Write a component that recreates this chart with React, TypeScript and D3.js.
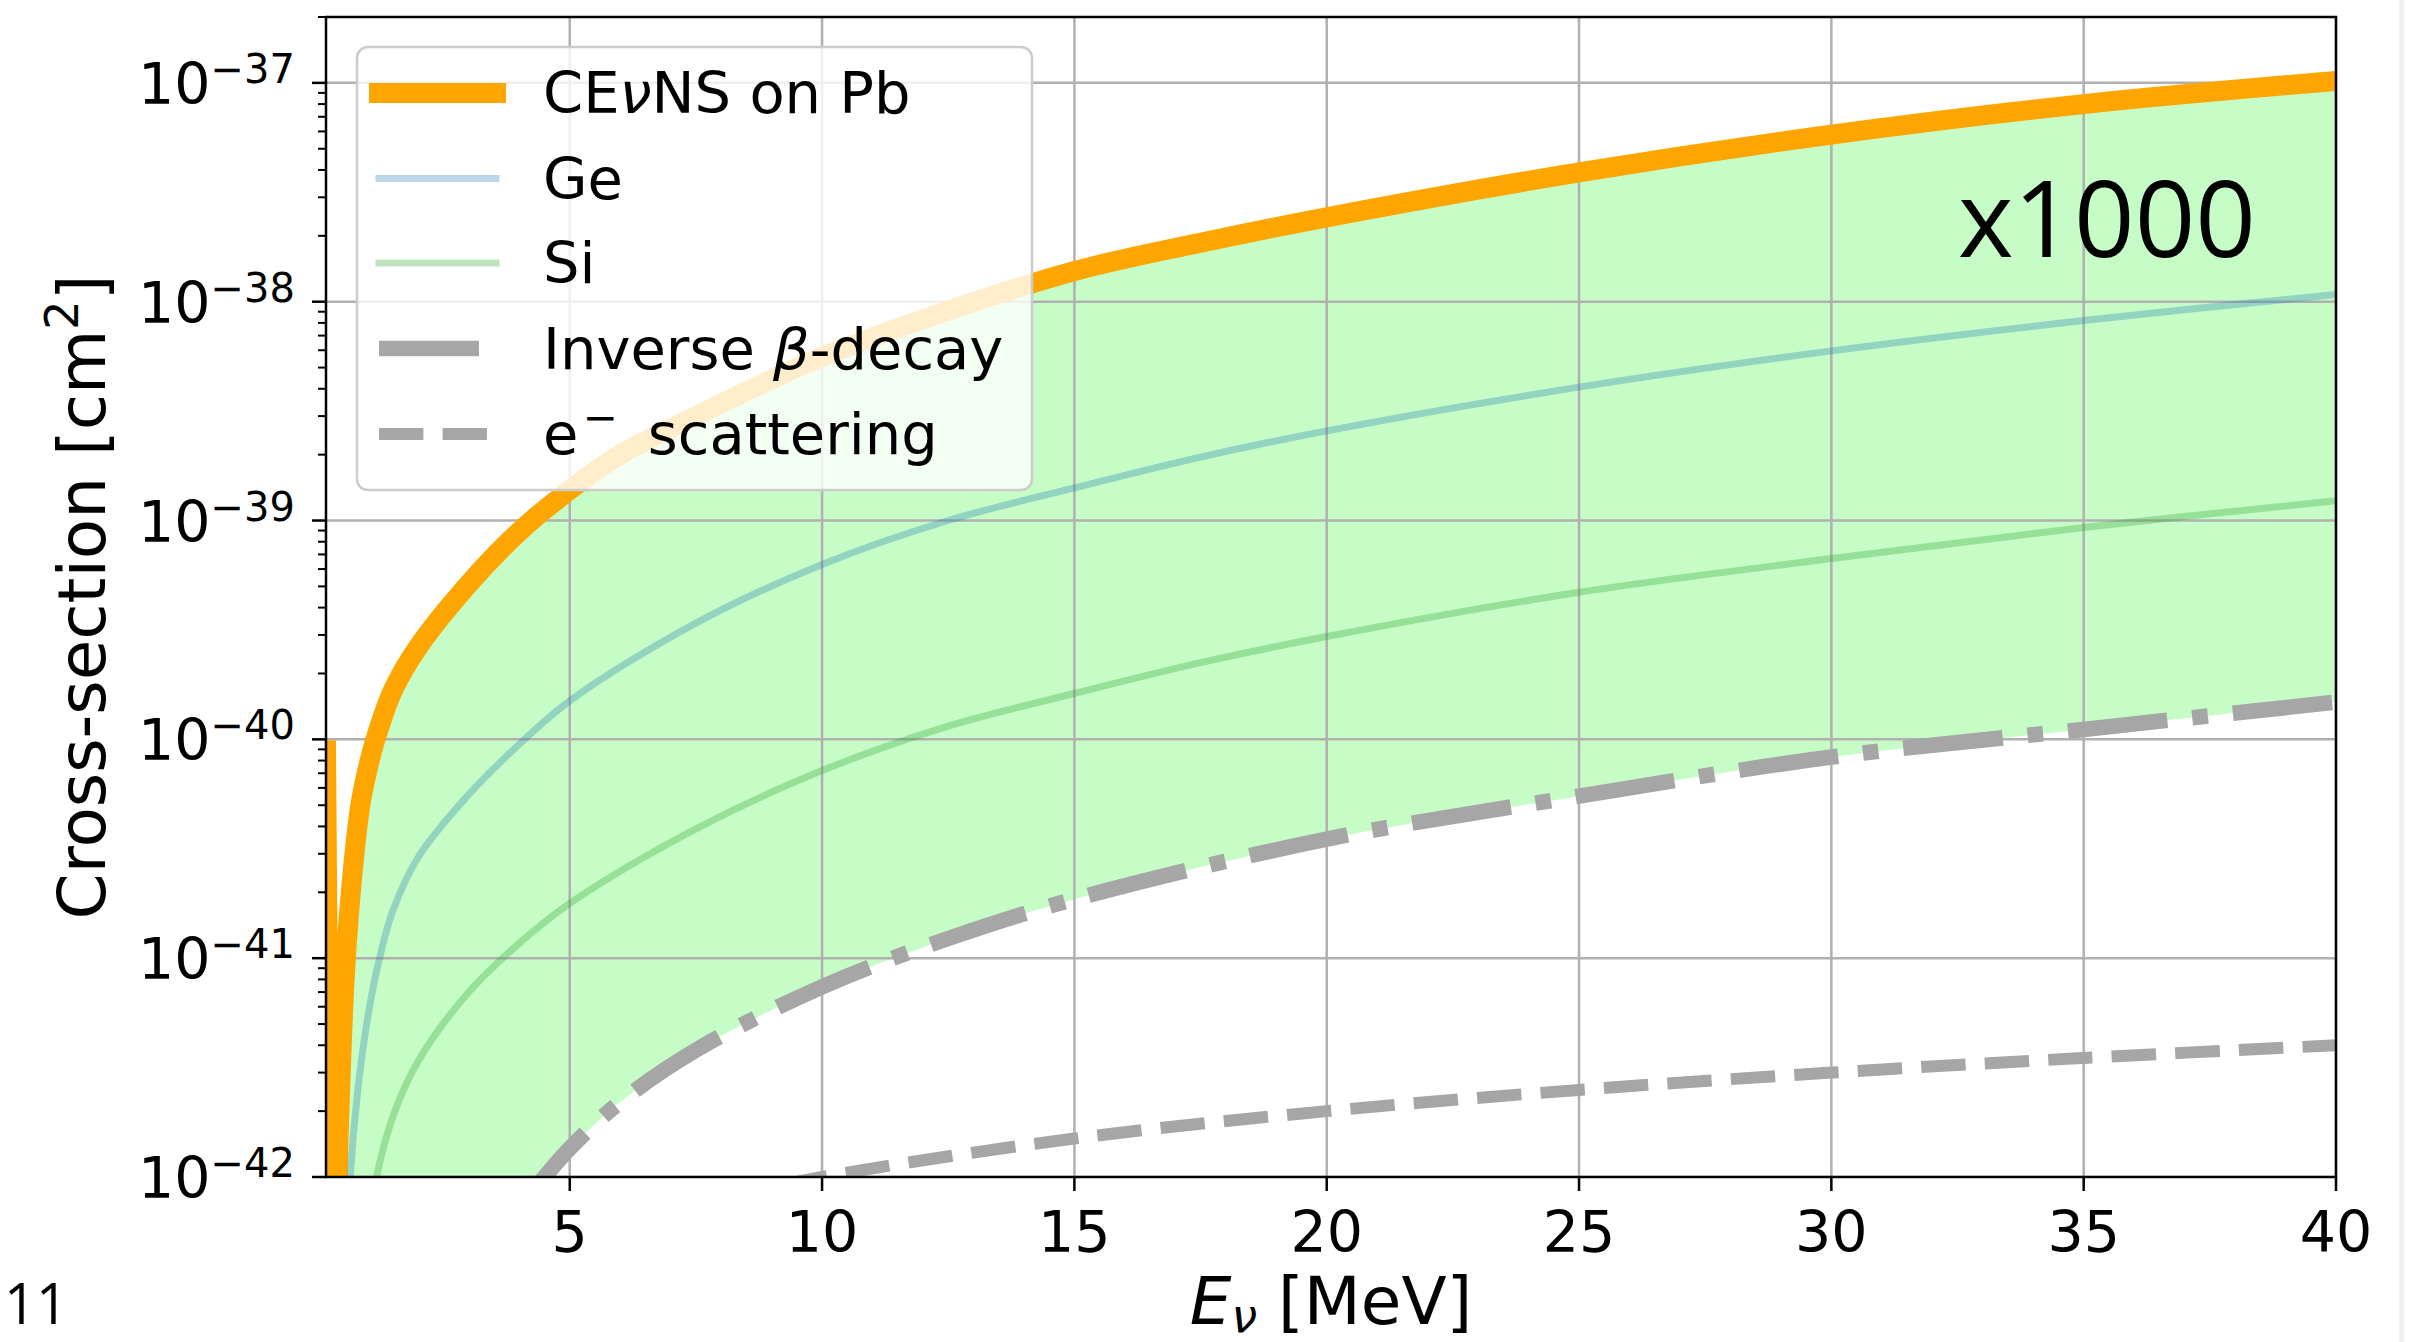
import React from "react";
import * as d3 from "d3";

const W = 2432;
const H = 1342;
const plot = { left: 326, right: 2336, top: 17, bottom: 1177 };

// CEvNS on Pb
const energyPb = [0.17, 0.33, 0.4, 0.45, 0.55, 0.7, 0.85, 1.0, 1.15, 1.5, 2, 3, 4, 5, 6, 7.5, 10, 12.5, 15, 17.5, 20, 25, 30, 35, 40];
const sigmaPb = [8.9e-41, 3.2e-44, 1.0e-42, 2.5e-42, 8.9e-42, 2.5e-41, 5.0e-41, 7.4e-41, 1.0e-40, 1.68e-40, 2.65e-40, 5.14e-40, 8.9e-40, 1.38e-39, 2.0e-39, 3.0e-39, 5.6e-39, 9.1e-39, 1.38e-38, 1.86e-38, 2.43e-38, 3.9e-38, 5.8e-38, 8.0e-38, 1.02e-37];

// Ge
const energyGe = [0.6, 0.65, 0.8, 1.0, 1.2, 1.5, 2, 3, 4, 5, 7.5, 10, 12.5, 15, 17.5, 20, 25, 30, 35, 40];
const sigmaGe = [5.0e-43, 1.0e-42, 2.5e-42, 5.4e-42, 9.3e-42, 1.66e-41, 2.9e-41, 5.6e-41, 9.5e-41, 1.5e-40, 3.4e-40, 6.3e-40, 1.0e-39, 1.41e-39, 1.95e-39, 2.57e-39, 4.07e-39, 5.96e-39, 8.2e-39, 1.08e-38];

// Si
const energySi = [1.1, 1.17, 1.5, 2, 3, 4, 5, 7.5, 10, 12.5, 15, 17.5, 20, 25, 30, 35, 40];
const sigmaSi = [7.9e-43, 1.0e-42, 1.9e-42, 3.4e-42, 7.0e-42, 1.17e-41, 1.78e-41, 3.9e-41, 7.2e-41, 1.15e-40, 1.62e-40, 2.24e-40, 2.95e-40, 4.7e-40, 6.7e-40, 9.3e-40, 1.23e-39];

// inverse beta decay
const energyIbd = [4.0, 4.5, 5, 6, 7.5, 10, 12.5, 15, 20, 25, 30, 35, 40];
const sigmaIbd = [7.2e-43, 1.0e-42, 1.35e-42, 2.2e-42, 3.8e-42, 7.4e-42, 1.23e-41, 1.86e-41, 3.5e-41, 5.5e-41, 8.3e-41, 1.11e-40, 1.48e-40];

// electron scattering
const energyEs = [8, 10, 15, 20, 25, 30, 35, 40];
const sigmaEs = [8.0e-43, 1.0e-42, 1.5e-42, 2.0e-42, 2.5e-42, 3.0e-42, 3.5e-42, 4.0e-42];

const xTicks = [5, 10, 15, 20, 25, 30, 35, 40];
const yExponents = [-42, -41, -40, -39, -38, -37];

const ORANGE = "#ffa500";
const GREY = "#a6a6a6";

type Pt = [number, number];
const zip = (e: number[], s: number[]): Pt[] => e.map((v, i) => [v, s[i]]);

export default function App() {
  const x = d3.scaleLinear().domain([0.17, 40]).range([plot.left, plot.right]);
  const y = d3.scaleLog().domain([1e-42, 2e-37]).range([plot.bottom, plot.top]);

  const curve = d3.curveCatmullRom.alpha(0.5);

  const line = d3
    .line<Pt>()
    .x((d) => x(d[0]))
    .y((d) => y(d[1]))
    .curve(curve);

  const area = d3
    .area<Pt>()
    .x((d) => x(d[0]))
    .y0(plot.bottom + 60)
    .y1((d) => y(d[1]))
    .curve(curve);

  const pb = zip(energyPb, sigmaPb);
  const ge = zip(energyGe, sigmaGe);
  const si = zip(energySi, sigmaSi);
  const ibd = zip(energyIbd, sigmaIbd);
  const es = zip(energyEs, sigmaEs);

  // minor ticks on the log axis
  const minor: number[] = [];
  for (let k = -42; k <= -37; k++) {
    for (let m = 2; m <= 9; m++) {
      const v = m * Math.pow(10, k);
      if (v <= 2.0001e-37) minor.push(v);
    }
  }

  const legendRows = [93, 178.5, 263, 348.5, 434];
  const hx0 = 379;
  const hx1 = 496;
  const tx = 543;
  const lfs = 57.5;

  return (
    <div style={{ position: "absolute", left: 0, top: 0 }}>
      <svg width={W} height={H} style={{ display: "block", background: "#fff" }} fontFamily="'DejaVu Sans', sans-serif">
        <defs>
          <clipPath id="plotClip">
            <rect x={plot.left} y={plot.top} width={plot.right - plot.left} height={plot.bottom - plot.top} />
          </clipPath>
          <mask id="ibdMask" maskUnits="userSpaceOnUse" x={0} y={0} width={W} height={H}>
            <rect x={0} y={0} width={W} height={H} fill="white" />
            <path d={area(ibd) || ""} fill="black" />
          </mask>
        </defs>

        {/* slide edge */}
        <rect x={2399} y={0} width={5} height={H} fill="#efefef" />

        <g clipPath="url(#plotClip)">
          {/* band between CEvNS on Pb and IBD */}
          <g mask="url(#ibdMask)">
            <path d={area(pb.slice(1)) || ""} fill="#98fb98" fillOpacity={0.55} />
          </g>

          {/* grid */}
          {xTicks.map((t) => (
            <line key={"gx" + t} x1={x(t)} x2={x(t)} y1={plot.top} y2={plot.bottom} stroke="#b0b0b0" strokeWidth={2.5} />
          ))}
          {yExponents.map((k) => (
            <line key={"gy" + k} x1={plot.left} x2={plot.right} y1={y(Math.pow(10, k))} y2={y(Math.pow(10, k))} stroke="#b0b0b0" strokeWidth={2.5} />
          ))}

          <path d={line(pb) || ""} fill="none" stroke={ORANGE} strokeWidth={20} strokeLinecap="square" strokeLinejoin="round" />
          <path d={line(ge) || ""} fill="none" stroke="#1f77b4" strokeOpacity={0.3} strokeWidth={7} strokeLinecap="square" />
          <path d={line(si) || ""} fill="none" stroke="#2ca02c" strokeOpacity={0.3} strokeWidth={7} strokeLinecap="square" />
          <path d={line(ibd) || ""} fill="none" stroke={GREY} strokeWidth={15.6} strokeDasharray="100 25 15.6 25" />
          <path d={line(es) || ""} fill="none" stroke={GREY} strokeWidth={12} strokeDasharray="44.4 19.2" />
        </g>

        {/* x ticks + labels */}
        {xTicks.map((t) => (
          <g key={"xt" + t}>
            <line x1={x(t)} x2={x(t)} y1={plot.bottom} y2={plot.bottom + 14} stroke="#000" strokeWidth={2.5} />
            <text x={x(t)} y={1252} fontSize={57} textAnchor="middle" fill="#000">
              {t}
            </text>
          </g>
        ))}

        {/* y ticks + labels */}
        {minor.map((v, i) => (
          <line key={"ym" + i} x1={plot.left - 8} x2={plot.left} y1={y(v)} y2={y(v)} stroke="#000" strokeWidth={2} />
        ))}
        {yExponents.map((k) => {
          const py = y(Math.pow(10, k));
          return (
            <g key={"yt" + k}>
              <line x1={plot.left - 14} x2={plot.left} y1={py} y2={py} stroke="#000" strokeWidth={2.5} />
              <text x={295} y={py + 21} fontSize={57} textAnchor="end" fill="#000">
                10
                <tspan dy={-21} fontSize={40}>
                  {"\u2212" + Math.abs(k)}
                </tspan>
              </text>
            </g>
          );
        })}

        {/* frame */}
        <rect x={plot.left} y={plot.top} width={plot.right - plot.left} height={plot.bottom - plot.top} fill="none" stroke="#000" strokeWidth={2.5} />

        {/* axis labels */}
        <text x={(plot.left + plot.right) / 2} y={1324} fontSize={66} textAnchor="middle" fill="#000">
          <tspan fontStyle="italic">E</tspan>
          <tspan fontStyle="italic" fontSize={46} dy={8}>ν</tspan>
          <tspan dy={-8}> [MeV]</tspan>
        </text>
        <text transform={`translate(105, ${(plot.top + plot.bottom) / 2}) rotate(-90)`} fontSize={66} textAnchor="middle" fill="#000">
          Cross-section [cm
          <tspan dy={-27} fontSize={46}>2</tspan>
          <tspan dy={27}>]</tspan>
        </text>

        {/* legend */}
        <rect x={357} y={47} width={675} height={443} rx={11} ry={11} fill="#fff" fillOpacity={0.8} stroke="#cccccc" strokeWidth={2.5} />
        <line x1={hx0} x2={hx1} y1={legendRows[0]} y2={legendRows[0]} stroke={ORANGE} strokeWidth={20} strokeLinecap="square" />
        <line x1={hx0} x2={hx1} y1={legendRows[1]} y2={legendRows[1]} stroke="#1f77b4" strokeOpacity={0.3} strokeWidth={7} strokeLinecap="square" />
        <line x1={hx0} x2={hx1} y1={legendRows[2]} y2={legendRows[2]} stroke="#2ca02c" strokeOpacity={0.3} strokeWidth={7} strokeLinecap="square" />
        <line x1={hx0} x2={hx1} y1={legendRows[3]} y2={legendRows[3]} stroke={GREY} strokeWidth={15.6} strokeDasharray="100 25 15.6 25" />
        <line x1={hx0} x2={hx1} y1={legendRows[4]} y2={legendRows[4]} stroke={GREY} strokeWidth={12} strokeDasharray="44.4 19.2" />

        <text x={tx} y={legendRows[0] + 20} fontSize={lfs} fill="#000">
          CE<tspan fontStyle="italic">ν</tspan>NS on Pb
        </text>
        <text x={tx} y={legendRows[1] + 20} fontSize={lfs} fill="#000">Ge</text>
        <text x={tx} y={legendRows[2] + 20} fontSize={lfs} fill="#000">Si</text>
        <text x={tx} y={legendRows[3] + 20} fontSize={lfs} fill="#000">
          Inverse <tspan fontStyle="italic">β</tspan>-decay
        </text>
        <text x={tx} y={legendRows[4] + 20} fontSize={lfs} fill="#000">
          e<tspan dy={-22} dx={4} fontSize={42}>{"\u2212"}</tspan>
          <tspan dy={22} dx={12}> scattering</tspan>
        </text>

        {/* annotation */}
        <text x={1958} y={257} fontSize={106} fontFamily="'Open Sans', 'Noto Sans', sans-serif" fill="#000">
          x1000
        </text>

        {/* slide number */}
        <text x={4} y={1324} fontSize={56} fontFamily="'Open Sans', 'Noto Sans', sans-serif" fill="#000">
          11
        </text>
      </svg>
    </div>
  );
}
